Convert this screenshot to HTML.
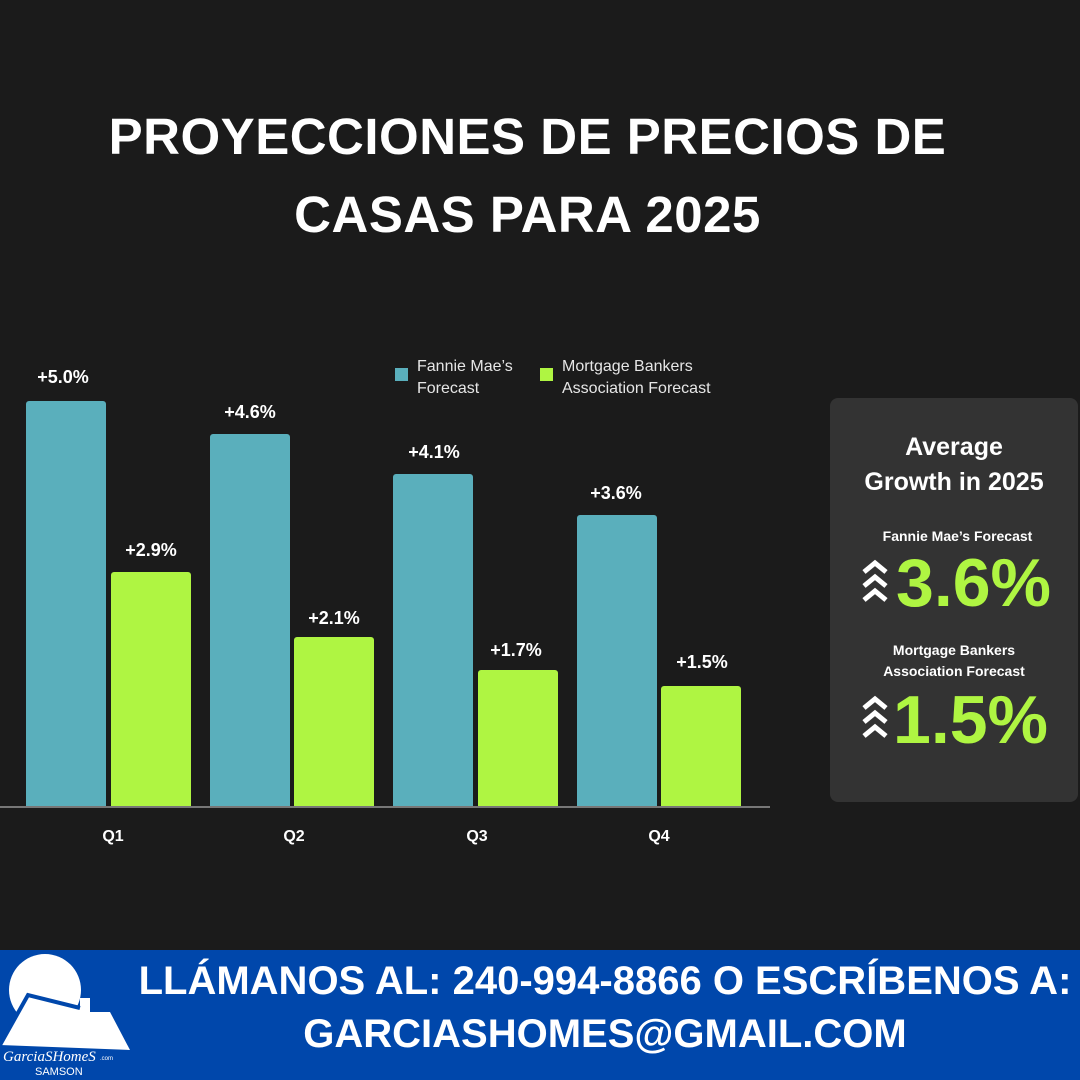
<!DOCTYPE html>
<html><head><meta charset="utf-8"><style>
body{margin:0;width:1080px;height:1080px;background:#1b1b1b;position:relative;overflow:hidden;font-family:"Liberation Sans",sans-serif;color:#fff}
.a{position:absolute}
.t{left:0;width:1055px;text-align:center;font-weight:bold;font-size:51px;letter-spacing:0.5px}
.bar{position:absolute;border-radius:3px 3px 0 0}
.tb{background:#5aafbc}.gb{background:#aff542}
.lbl{position:absolute;width:100px;text-align:center;font-weight:bold;font-size:18px}
.q{position:absolute;top:828px;font-weight:bold;font-size:16px;width:60px;text-align:center}
</style></head><body>
<div class="a t" style="top:107px">PROYECCIONES DE PRECIOS DE</div>
<div class="a t" style="top:185px">CASAS PARA 2025</div>

<div class="a" style="left:395px;top:368px;width:13px;height:13px;background:#5aafbc"></div>
<div class="a" style="left:417px;top:356px;font-size:16px;line-height:22px;color:#e6e6e6">Fannie Mae’s<br>Forecast</div>
<div class="a" style="left:540px;top:368px;width:13px;height:13px;background:#aff542"></div>
<div class="a" style="left:562px;top:356px;font-size:16px;line-height:22px;color:#e6e6e6">Mortgage Bankers<br>Association Forecast</div>

<div class="bar tb" style="left:26px;top:401px;width:80px;height:406px"></div>
<div class="bar gb" style="left:111px;top:572px;width:80px;height:235px"></div>
<div class="bar tb" style="left:210px;top:434px;width:80px;height:373px"></div>
<div class="bar gb" style="left:294px;top:637px;width:80px;height:170px"></div>
<div class="bar tb" style="left:393px;top:474px;width:80px;height:333px"></div>
<div class="bar gb" style="left:478px;top:670px;width:80px;height:137px"></div>
<div class="bar tb" style="left:577px;top:515px;width:80px;height:292px"></div>
<div class="bar gb" style="left:661px;top:686px;width:80px;height:121px"></div>
<div class="a" style="left:0;top:806px;width:770px;height:2px;background:#777"></div>

<div class="lbl" style="left:13px;top:367px">+5.0%</div>
<div class="lbl" style="left:101px;top:540px">+2.9%</div>
<div class="lbl" style="left:200px;top:402px">+4.6%</div>
<div class="lbl" style="left:284px;top:608px">+2.1%</div>
<div class="lbl" style="left:384px;top:442px">+4.1%</div>
<div class="lbl" style="left:466px;top:640px">+1.7%</div>
<div class="lbl" style="left:566px;top:483px">+3.6%</div>
<div class="lbl" style="left:652px;top:652px">+1.5%</div>

<div class="q" style="left:83px">Q1</div>
<div class="q" style="left:264px">Q2</div>
<div class="q" style="left:447px">Q3</div>
<div class="q" style="left:629px">Q4</div>

<div class="a" style="left:830px;top:398px;width:248px;height:404px;background:#333;border-radius:8px"></div>
<div class="a" style="left:830px;top:430px;width:248px;text-align:center;font-weight:bold;font-size:25px;line-height:35px">Average<br>Growth in 2025</div>
<div class="a" style="left:830px;top:528px;width:255px;text-align:center;font-weight:bold;font-size:14px">Fannie Mae’s Forecast</div>
<div class="a" style="left:896px;top:546px;font-weight:bold;font-size:68px;color:#aff542;line-height:74px">3.6%</div>
<div class="a" style="left:830px;top:640px;width:248px;text-align:center;font-weight:bold;font-size:14px;line-height:21px">Mortgage Bankers<br>Association Forecast</div>
<div class="a" style="left:893px;top:683px;font-weight:bold;font-size:68px;color:#aff542;line-height:74px">1.5%</div>
<svg class="a" style="left:862px;top:558px" width="26" height="48" viewBox="0 0 26 48"><g fill="none" stroke="#fff" stroke-width="5"><path d="M2 14 L13 5 L24 14"/><path d="M2 28 L13 19 L24 28"/><path d="M2 42 L13 33 L24 42"/></g></svg>
<svg class="a" style="left:862px;top:694px" width="26" height="48" viewBox="0 0 26 48"><g fill="none" stroke="#fff" stroke-width="5"><path d="M2 14 L13 5 L24 14"/><path d="M2 28 L13 19 L24 28"/><path d="M2 42 L13 33 L24 42"/></g></svg>

<div class="a" style="left:0;top:950px;width:1080px;height:130px;background:#0047ab"></div>
<svg class="a" style="left:0;top:950px" width="135" height="130" viewBox="0 0 135 130">
<circle cx="45" cy="40" r="36" fill="#fff"/>
<path d="M0 95 L28 45 L80 58 L80 48 L90 48 L90 62 L110 62 L130 100 Z" fill="#fff"/>
<path d="M0 95 L28 45 L80 58" fill="none" stroke="#0047ab" stroke-width="4"/>
<text x="3" y="111" font-family="Liberation Serif" font-style="italic" font-size="15" fill="#fff">GarciaSHomeS</text>
<text x="100" y="110" font-size="6" fill="#fff">.com</text>
<text x="35" y="125" font-size="11" fill="#fff">SAMSON</text>
</svg>
<div class="a" style="left:130px;top:955px;width:950px;text-align:center;font-weight:bold;font-size:40px;line-height:53px">LLÁMANOS AL: 240-994-8866 O ESCRÍBENOS A:<br>GARCIASHOMES@GMAIL.COM</div>
</body></html>
